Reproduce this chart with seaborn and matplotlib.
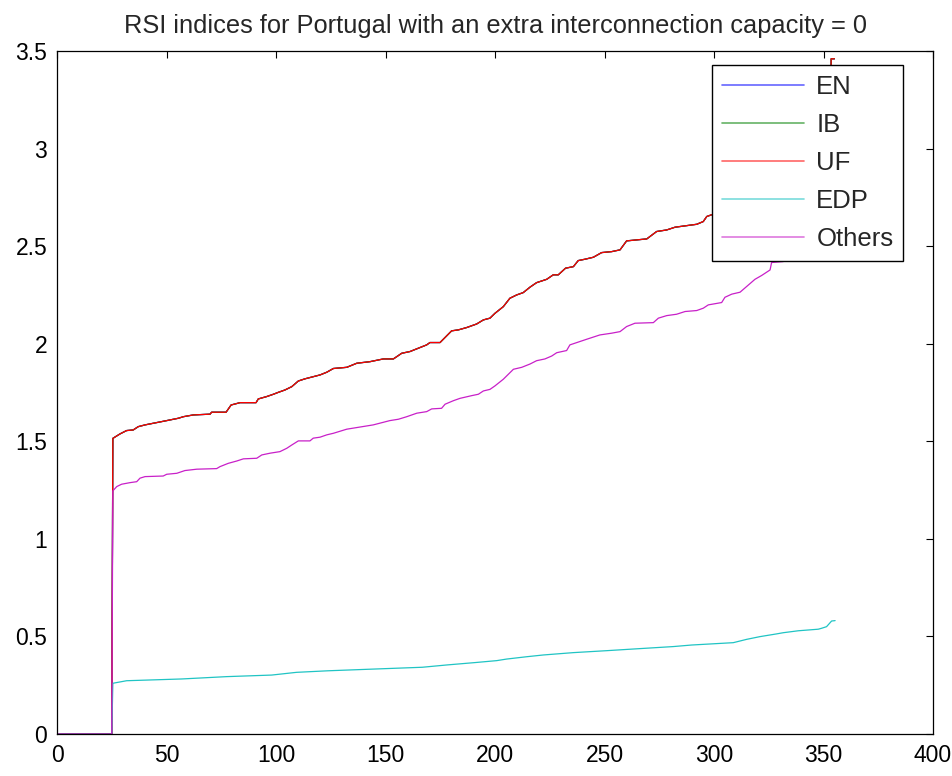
import numpy as np
import pandas as pd
import matplotlib
matplotlib.use("Agg")
import matplotlib.pyplot as plt
import seaborn as sns

# ---- data ----
series_names = ["EN", "IB", "UF", "EDP", "Others"]

# EN, IB and UF coincide in the picture (they are drawn on top of each other)
big3_x = [0, 25, 25.5, 28.8, 31.8, 34.8, 37.1, 40.2, 44.7, 50.1, 55.4, 57.7, 62.2, 69.9,
          70.6, 77.2, 79.5, 83.6, 90.9, 91.9, 95.7, 98.8, 101.1, 104.1, 107.2, 110.2,
          113.2, 117.0, 120.1, 123.2, 126.2, 132.3, 136.9, 142.9, 149.0, 153.6, 157.4,
          161.2, 165.0, 168.8, 170.3, 174.9, 180.2, 183.3, 187.1, 191.6, 194.7, 197.7,
          200.0, 203.8, 206.8, 209.9, 212.9, 216.0, 219.0, 223.6, 226.6, 228.9, 232.2,
          235.8, 238.0, 241.1, 244.9, 248.7, 253.3, 257.1, 260.1, 269.3, 273.8, 278.4,
          282.2, 286.8, 292.1, 295.1, 296.7, 300, 310, 320, 330, 340, 350, 353, 353.5, 355]
big3_y = [0, 0, 1.515, 1.538, 1.555, 1.558, 1.575, 1.584, 1.594, 1.606, 1.618, 1.626, 1.635,
          1.639, 1.649, 1.649, 1.686, 1.698, 1.698, 1.717, 1.729, 1.741, 1.751, 1.763, 1.780,
          1.809, 1.820, 1.831, 1.840, 1.854, 1.873, 1.879, 1.900, 1.908, 1.922, 1.922, 1.951,
          1.960, 1.977, 1.994, 2.006, 2.006, 2.066, 2.071, 2.083, 2.101, 2.122, 2.131, 2.156,
          2.190, 2.233, 2.250, 2.262, 2.290, 2.313, 2.330, 2.353, 2.353, 2.387, 2.395, 2.426,
          2.433, 2.443, 2.467, 2.472, 2.481, 2.527, 2.537, 2.575, 2.583, 2.597, 2.604, 2.612,
          2.626, 2.652, 2.665, 2.71, 2.76, 2.82, 2.90, 3.00, 3.05, 3.46, 3.46]

en_x, en_y = big3_x, big3_y
ib_x, ib_y = big3_x, big3_y
uf_x, uf_y = big3_x, big3_y

edp_x = [0, 25, 25.5, 31.8, 56.9, 77.5, 98, 109.4, 123.9, 145.2, 166.8, 178.2, 190.9, 200.8,
         205.3, 214.5, 222.1, 235.8, 251, 263.9, 281.4, 289.8, 308.8, 314.9, 321, 328.6,
         331.6, 338.5, 347.6, 349.2, 351.4, 353.7, 355.3]
edp_y = [0, 0, 0.260, 0.273, 0.282, 0.294, 0.302, 0.316, 0.324, 0.333, 0.342, 0.354, 0.366,
         0.376, 0.384, 0.396, 0.405, 0.417, 0.427, 0.436, 0.448, 0.456, 0.468, 0.485, 0.499,
         0.513, 0.519, 0.529, 0.537, 0.542, 0.550, 0.579, 0.581]

others_x = [0, 25, 25.5, 27.3, 29.5, 33.3, 36.4, 37.9, 40.2, 48.5, 50.1, 54.7, 58.4, 63.8,
            72.9, 74.4, 78.2, 82.1, 85.1, 91.2, 93.5, 97.3, 101.8, 104.9, 107.2, 110.2,
            115.5, 117.0, 120.1, 123.2, 126.2, 132.3, 144.4, 152.0, 155.9, 159.7, 164.3,
            168.8, 171.1, 175.6, 177.2, 181.0, 184.0, 189.4, 192.4, 194.7, 197.7, 200.0,
            203.8, 208.4, 212.2, 216.0, 219.0, 222.8, 225.9, 228.2, 232.7, 234.2, 241.9,
            247.9, 253.3, 257.1, 260.1, 263.9, 272.3, 274.6, 278.4, 282.9, 286.8, 292.1,
            295.1, 297.4, 303.5, 305.0, 308.1, 311.9, 318.7, 321.8, 325.6, 326.3, 331.6,
            340, 350, 355]
others_y = [0, 0, 1.246, 1.268, 1.280, 1.288, 1.293, 1.311, 1.319, 1.322, 1.331, 1.336, 1.350,
            1.357, 1.360, 1.370, 1.387, 1.399, 1.410, 1.413, 1.430, 1.439, 1.447, 1.464, 1.481,
            1.502, 1.502, 1.516, 1.521, 1.533, 1.541, 1.562, 1.584, 1.606, 1.613, 1.626, 1.644,
            1.652, 1.666, 1.669, 1.690, 1.708, 1.720, 1.734, 1.741, 1.758, 1.766, 1.784, 1.818,
            1.869, 1.879, 1.896, 1.913, 1.922, 1.937, 1.954, 1.965, 1.994, 2.023, 2.045, 2.054,
            2.062, 2.088, 2.105, 2.108, 2.131, 2.144, 2.151, 2.165, 2.170, 2.182, 2.199, 2.211,
            2.238, 2.254, 2.264, 2.33, 2.35, 2.378, 2.416, 2.421, 2.50, 2.62, 2.70]

x_ticks = [0, 50, 100, 150, 200, 250, 300, 350, 400]
y_ticks = [0, 0.5, 1, 1.5, 2, 2.5, 3, 3.5]
y_tick_labels = ["0", "0.5", "1", "1.5", "2", "2.5", "3", "3.5"]
title_text = "RSI indices for Portugal with an extra interconnection capacity = 0"

# ---- build long-form table ----
frames = []
for name, xs, ys in [("EN", en_x, en_y), ("IB", ib_x, ib_y), ("UF", uf_x, uf_y),
                     ("EDP", edp_x, edp_y), ("Others", others_x, others_y)]:
    frames.append(pd.DataFrame({"x": xs, "y": ys, "series": name}))
df = pd.concat(frames, ignore_index=True)

palette = {"EN": "#0000ff", "IB": "#008000", "UF": "#ff0000",
           "EDP": "#20c4c4", "Others": "#c820c8"}

sns.set_style("white")
plt.rcParams["font.family"] = ["Liberation Sans", "DejaVu Sans"]

fig = plt.figure(figsize=(9.52, 7.76), dpi=100)
ax = fig.add_axes([57 / 952, 1 - 734 / 776, (933 - 57) / 952, (734 - 51) / 776])

sns.lineplot(data=df, x="x", y="y", hue="series", hue_order=series_names,
             palette=palette, estimator=None, sort=False, linewidth=0.9, ax=ax)

# UF drawn over EN/IB gives the dark red seen in the reference
for line in ax.get_lines():
    if line.get_label() == "UF":
        line.set_alpha(0.6)

ax.set_xlim(0, 400)
ax.set_ylim(0, 3.5)
ax.set_xticks(x_ticks)
ax.set_xticklabels([str(t) for t in x_ticks])
ax.set_yticks(y_ticks)
ax.set_yticklabels(y_tick_labels)
ax.tick_params(direction="in", length=5, width=0.8, top=True, right=True,
               labelsize=16.5, colors="black", pad=7)
for sp in ax.spines.values():
    sp.set_visible(True)
    sp.set_color("black")
    sp.set_linewidth(0.9)
ax.set_xlabel("")
ax.set_ylabel("")
ax.set_title(title_text, fontsize=18.3, pad=13)

handles, labels = ax.get_legend_handles_labels()
leg = ax.legend(handles, labels, loc="upper right", bbox_to_anchor=(0.966, 0.9795),
                fontsize=18.5, frameon=True, fancybox=False, framealpha=1,
                edgecolor="black", handlelength=3.2, handletextpad=0.47,
                labelspacing=0.55, borderpad=0.38, borderaxespad=0)
leg.get_frame().set_linewidth(1.0)
for lh in leg.get_lines():
    lh.set_alpha(0.6)
    lh.set_linewidth(1.2)

fig.savefig("out.png", dpi=100, facecolor="white")
